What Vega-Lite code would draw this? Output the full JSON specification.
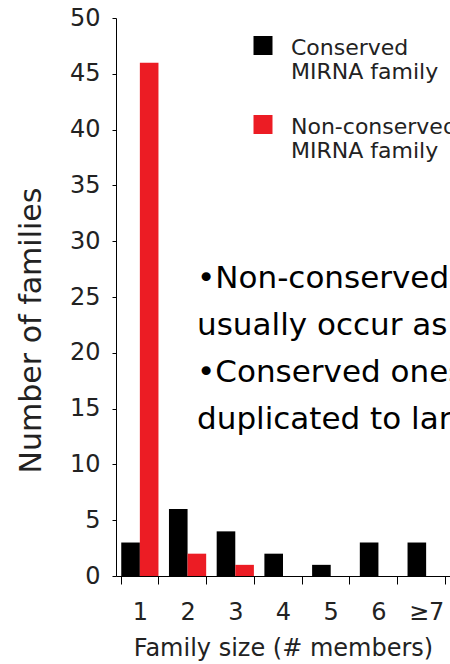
{
  "$schema": "https://vega.github.io/schema/vega-lite/v6.json",
  "width": 334,
  "height": 558,
  "autosize": {"type": "none"},
  "padding": {"left": 116, "top": 18, "right": 0, "bottom": 88},
  "background": "white",
  "config": {"view": {"stroke": null}, "font": "DejaVu Sans"},
  "datasets": {
    "families": [
      {"size": "1", "type": "Conserved", "count": 3},
      {"size": "1", "type": "Non-conserved", "count": 46},
      {"size": "2", "type": "Conserved", "count": 6},
      {"size": "2", "type": "Non-conserved", "count": 2},
      {"size": "3", "type": "Conserved", "count": 4},
      {"size": "3", "type": "Non-conserved", "count": 1},
      {"size": "4", "type": "Conserved", "count": 2},
      {"size": "4", "type": "Non-conserved", "count": 0},
      {"size": "5", "type": "Conserved", "count": 1},
      {"size": "5", "type": "Non-conserved", "count": 0},
      {"size": "6", "type": "Conserved", "count": 3},
      {"size": "6", "type": "Non-conserved", "count": 0},
      {"size": "≥7", "type": "Conserved", "count": 3},
      {"size": "≥7", "type": "Non-conserved", "count": 0}
    ],
    "notes": [
      {"lines": ["•Non-conserved MIRNAs", "usually occur as singletons", "•Conserved ones are", "duplicated to large families"]}
    ]
  },
  "layer": [
    {
      "data": {"name": "families"},
      "mark": {"type": "bar"},
      "encoding": {
        "x": {
          "field": "size",
          "type": "nominal",
          "sort": ["1", "2", "3", "4", "5", "6", "≥7"],
          "scale": {"paddingInner": 0.22, "paddingOuter": 0.11},
          "axis": {
            "title": "Family size (# members)",
            "labelAngle": 0,
            "tickBand": "extent",
            "tickSize": 8,
            "labelPadding": 16,
            "labelFontSize": 24,
            "labelColor": "#222222",
            "titleFontSize": 24,
            "titleFontWeight": "normal",
            "titleColor": "#222222",
            "titlePadding": 12,
            "domainColor": "#000000",
            "tickColor": "#000000",
            "grid": false
          }
        },
        "xOffset": {"field": "type", "type": "nominal", "sort": ["Conserved", "Non-conserved"]},
        "y": {
          "field": "count",
          "type": "quantitative",
          "scale": {"domain": [0, 50], "nice": false},
          "axis": {
            "values": [0, 5, 10, 15, 20, 25, 30, 35, 40, 45, 50],
            "title": "Number of families",
            "grid": false,
            "tickSize": 4,
            "labelPadding": 12,
            "labelFontSize": 24,
            "labelColor": "#222222",
            "titleFontSize": 30,
            "titleFontWeight": "normal",
            "titleColor": "#222222",
            "titleAngle": -90,
            "titleAlign": "center",
            "titleBaseline": "middle",
            "titleX": -85,
            "titleY": 312,
            "domainColor": "#000000",
            "tickColor": "#000000"
          }
        },
        "color": {
          "field": "type",
          "type": "nominal",
          "scale": {"domain": ["Conserved", "Non-conserved"], "range": ["#000000", "#ec1c24"]},
          "legend": {
            "orient": "none",
            "legendX": 136,
            "legendY": 26,
            "title": null,
            "padding": 0,
            "symbolType": "M-1,-2H1V0H-1Z",
            "symbolSize": 361,
            "symbolStrokeWidth": 0,
            "labelFontSize": 22,
            "labelColor": "#222222",
            "labelBaseline": "alphabetic",
            "labelOffset": 17,
            "labelLimit": 400,
            "rowPadding": 32,
            "labelExpr": "datum.label == 'Conserved' ? ['Conserved', 'MIRNA family'] : ['Non-conserved', 'MIRNA family']"
          }
        }
      }
    },
    {
      "data": {"name": "notes"},
      "mark": {
        "type": "text",
        "align": "left",
        "baseline": "alphabetic",
        "fontSize": 31,
        "lineHeight": 47,
        "dx": 9.5,
        "color": "#000000"
      },
      "encoding": {
        "x": {"datum": "2"},
        "y": {"datum": 25.8},
        "text": {"field": "lines"}
      }
    }
  ]
}
